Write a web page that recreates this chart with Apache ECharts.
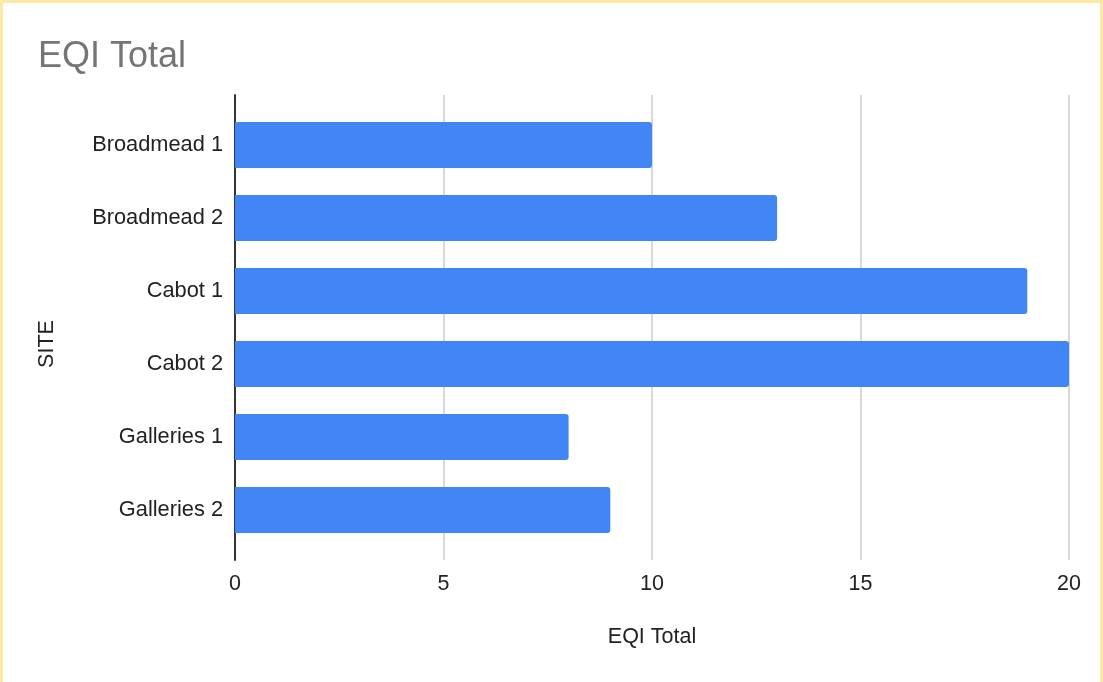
<!DOCTYPE html>
<html>
<head>
<meta charset="utf-8">
<script src="https://cdn.jsdelivr.net/npm/echarts@6/dist/echarts.min.js"></script>
<style>
  html, body { margin: 0; padding: 0; background: #fff; }
  #chart { width: 1103px; height: 682px; }
</style>
</head>
<body>
<div id="chart"></div>
<script>
// Sites and their EQI totals
const sites = ['Broadmead 1', 'Broadmead 2', 'Cabot 1', 'Cabot 2', 'Galleries 1', 'Galleries 2'];
const eqiTotals = [10, 13, 19, 20, 8, 9];
const xTicks = [0, 5, 10, 15, 20];

const FONT = '"Liberation Sans", Arial, sans-serif';
const chart = echarts.init(document.getElementById('chart'));

chart.setOption({
  animation: false,
  backgroundColor: '#ffffff',
  textStyle: { fontFamily: FONT },
  title: {
    text: 'EQI Total',
    left: 33,
    top: 34,
    textStyle: { fontFamily: FONT, fontSize: 36, fontWeight: 'normal', color: '#757575' }
  },
  graphic: [{
    type: 'rect',
    silent: true,
    shape: { x: 1.5, y: 1.5, width: 1100, height: 720 },
    style: { fill: 'none', stroke: '#fde8a6', lineWidth: 3 }
  }, {
    // vertical axis title
    type: 'text',
    silent: true,
    x: 47,
    y: 344,
    rotation: Math.PI / 2,
    style: {
      text: 'SITE',
      font: '21.5px "Liberation Sans", Arial, sans-serif',
      fill: '#222',
      align: 'center',
      verticalAlign: 'middle'
    }
  }],
  grid: [
    // frame: gridlines, tick labels, baseline
    { left: 235, right: 34, top: 95, bottom: 122 },
    // bars
    { left: 235, right: 34, top: 108.5, bottom: 135.5 }
  ],
  xAxis: [{
    gridIndex: 0,
    type: 'value',
    min: xTicks[0],
    max: xTicks[xTicks.length - 1],
    interval: 5,
    name: 'EQI Total',
    nameLocation: 'middle',
    nameGap: 66,
    nameTextStyle: { fontFamily: FONT, fontSize: 21.5, color: '#222' },
    axisLine: { show: false },
    axisTick: { show: false },
    axisLabel: { fontFamily: FONT, fontSize: 21.5, color: '#222', margin: 13 },
    splitLine: { show: true, lineStyle: { color: '#cccccc', width: 1.5 } }
  }, {
    gridIndex: 1,
    type: 'value',
    min: xTicks[0],
    max: xTicks[xTicks.length - 1],
    show: false,
    splitLine: { show: false }
  }],
  yAxis: [{
    gridIndex: 0,
    type: 'value',
    min: 0,
    max: 1,
    axisLine: { show: true, onZero: false, lineStyle: { color: '#333333', width: 2 } },
    axisTick: { show: false },
    axisLabel: { show: false },
    splitLine: { show: false }
  }, {
    gridIndex: 1,
    type: 'category',
    inverse: true,
    data: sites,
    axisLine: { show: false },
    axisTick: { show: false },
    axisLabel: { fontFamily: FONT, fontSize: 21.8, color: '#222', margin: 12 },
    splitLine: { show: false }
  }],
  series: [{
    type: 'bar',
    xAxisIndex: 1,
    yAxisIndex: 1,
    data: eqiTotals,
    barCategoryGap: '37%',
    itemStyle: { color: '#4285f4', borderRadius: [0, 3, 3, 0] }
  }]
});
</script>
</body>
</html>
